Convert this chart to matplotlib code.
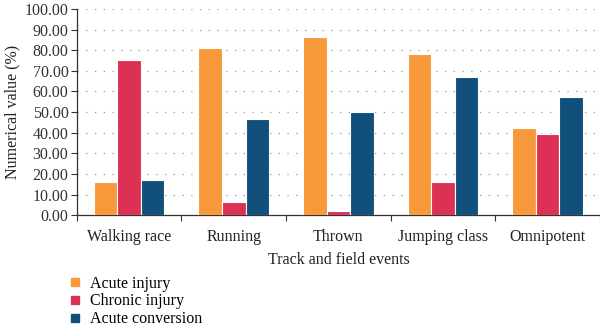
import numpy as np
import matplotlib.pyplot as plt
from matplotlib.lines import Line2D

events = ["Walking race", "Running", "Thrown", "Jumping class", "Omnipotent"]
acute_injury = [16.2, 80.9, 86.6, 78.2, 42.1]
chronic_injury = [75.1, 6.5, 2.1, 16.2, 39.2]
acute_conversion = [17.0, 46.4, 50.2, 67.1, 57.1]
series_names = ["Acute injury", "Chronic injury", "Acute conversion"]
colors = ["#F7993A", "#DC3055", "#11507A"]

plt.rcParams['font.family'] = ['Liberation Serif', 'DejaVu Serif']

fig = plt.figure(figsize=(6, 3.32), dpi=100)
ax = fig.add_axes([0.128, 0.352, 0.872, 0.621])

x = np.arange(len(events))
w = 0.225
for i, (vals, c) in enumerate(zip([acute_injury, chronic_injury, acute_conversion], colors)):
    ax.bar(x + (i - 1) * w, vals, width=w, color=c, edgecolor='white', linewidth=0.8, zorder=3)

ax.set_xlim(-0.5, 4.5)
ax.set_ylim(0, 100)
ax.set_yticks(np.arange(0, 101, 10))
ax.set_yticklabels(["%.2f" % v for v in np.arange(0, 101, 10)], fontsize=11.5, color='#333333')
ax.yaxis.grid(True, linestyle=(0, (1, 6)), color='#999999', linewidth=0.9, zorder=0)

ax.set_xticks(np.arange(-0.5, 5, 1))
ax.set_xticklabels([])
ax.set_xticks(x, minor=True)
ax.set_xticklabels(events, minor=True, fontsize=11.5, color='#222222')
ax.tick_params(axis='x', which='minor', length=0, pad=10)
ax.tick_params(axis='x', which='major', length=4, direction='out', color='#333333')
ax.tick_params(axis='y', length=4, color='#333333', pad=2)

for s in ['top', 'right']:
    ax.spines[s].set_visible(False)
for s in ['left', 'bottom']:
    ax.spines[s].set_color('#333333')
    ax.spines[s].set_linewidth(0.9)

ax.set_xlabel("Track and field events", fontsize=11.5, color='#222222', labelpad=5)
ax.set_ylabel("Numerical value (%)", fontsize=11.5, color='#222222', labelpad=3)

handles = [Line2D([], [], marker='s', linestyle='', color=c, markersize=6) for c in colors]
fig.legend(handles, series_names, loc='upper left', bbox_to_anchor=(0.115, 0.17),
           frameon=False, fontsize=11.5, handlelength=0.8, handletextpad=0.5,
           labelspacing=0.12, borderpad=0, borderaxespad=0)

fig.savefig("out.png", dpi=100)
